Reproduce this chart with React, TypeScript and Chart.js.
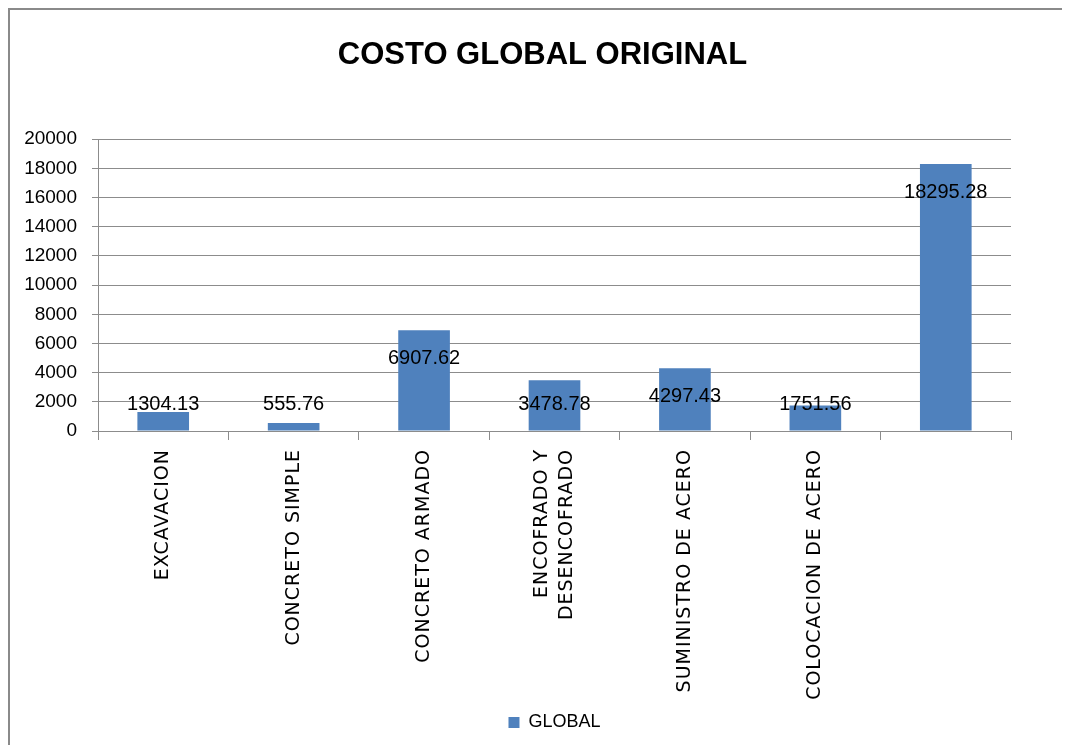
import React, { useEffect, useRef } from 'react';
import { Chart, registerables } from 'chart.js';

Chart.register(...registerables);

const chartTitle = 'COSTO GLOBAL ORIGINAL';
const seriesName = 'GLOBAL';
const categories: (string | string[])[] = [
  'EXCAVACION',
  'CONCRETO SIMPLE',
  'CONCRETO ARMADO',
  ['ENCOFRADO Y', 'DESENCOFRADO'],
  'SUMINISTRO DE ACERO',
  'COLOCACION DE ACERO',
  '',
];
const globalValues = [1304.13, 555.76, 6907.62, 3478.78, 4297.43, 1751.56, 18295.28];
const yMin = 0;
const yMax = 20000;
const yStep = 2000;

const BAR_COLOR = '#4F81BD';
const GRID_COLOR = '#8c8c8c';
const X_FONT_SIZE = 19;
const X_LINE_HEIGHT = 1.3;

const labelPlugin = {
  id: 'costLabels',
  beforeDraw(chart: any) {
    const xs = chart.scales.x;
    if (!xs) return;
    const items = xs.getLabelItems();
    const lh = X_FONT_SIZE * X_LINE_HEIGHT;
    items.forEach((it: any) => {
      if (Array.isArray(it.label) && !it._centered) {
        it._centered = true;
        it.options.translation = [
          it.options.translation[0] - ((it.label.length - 1) * lh) / 2,
          it.options.translation[1],
        ];
      }
    });
  },
  afterDatasetsDraw(chart: any) {
    const ctx = chart.ctx;
    const meta = chart.getDatasetMeta(0);
    ctx.save();
    ctx.font = '20px "Liberation Sans", Arial, sans-serif';
    ctx.fillStyle = '#000';
    ctx.textAlign = 'center';
    ctx.textBaseline = 'middle';
    meta.data.forEach((bar: any, i: number) => {
      const { x, y, base } = bar.getProps(['x', 'y', 'base'], true);
      const cy = Math.min(y + 28, base - 26);
      ctx.fillText(globalValues[i].toFixed(2), x, cy);
    });
    ctx.restore();
    (ctx as any).letterSpacing = '1px';
  },
  afterDraw(chart: any) {
    (chart.ctx as any).letterSpacing = '0px';
  },
};

export default function App() {
  const canvasRef = useRef<HTMLCanvasElement | null>(null);

  useEffect(() => {
    if (!canvasRef.current) return;
    const chart = new Chart(canvasRef.current, {
      type: 'bar',
      data: {
        labels: categories,
        datasets: [
          {
            label: seriesName,
            data: globalValues,
            backgroundColor: BAR_COLOR,
            borderWidth: 0,
            categoryPercentage: 1,
            barPercentage: 0.396,
            yAxisID: 'y',
          },
        ],
      },
      plugins: [labelPlugin],
      options: {
        responsive: false,
        animation: false,
        devicePixelRatio: 1,
        events: [],
        layout: { padding: { top: 0, left: 0, right: 0, bottom: 3.5 } },
        plugins: {
          title: {
            display: true,
            text: chartTitle,
            color: '#000',
            font: { family: '"Liberation Sans", Arial, sans-serif', size: 31, weight: 'bold', lineHeight: 1.2 },
            padding: { top: 27, bottom: 65 },
          },
          legend: {
            display: true,
            position: 'bottom',
            fullSize: false,
            labels: {
              boxWidth: 11,
              boxHeight: 11,
              color: '#000',
              padding: 10,
              font: { family: '"Liberation Sans", Arial, sans-serif', size: 18 },
            },
          },
          tooltip: { enabled: false },
        },
        scales: {
          x: {
            offset: true,
            grid: {
              offset: true,
              drawOnChartArea: false,
              drawTicks: true,
              tickLength: 9,
              color: GRID_COLOR,
            },
            border: { color: GRID_COLOR, width: 1 },
            ticks: {
              z: 1,
              autoSkip: false,
              minRotation: 90,
              maxRotation: 90,
              padding: 9,
              color: '#000',
              font: { family: '"DejaVu Sans", Verdana, sans-serif', size: X_FONT_SIZE, lineHeight: X_LINE_HEIGHT },
            },
            afterFit: (s: any) => {
              s.height = 272.5;
            },
          },
          y: {
            position: 'left',
            min: yMin,
            max: yMax,
            grid: { color: GRID_COLOR, tickLength: 6, lineWidth: 1 },
            border: { color: GRID_COLOR, width: 1 },
            ticks: {
              stepSize: yStep,
              padding: 15,
              color: '#000',
              font: { family: '"Liberation Sans", Arial, sans-serif', size: 19 },
              callback: (v: any) => String(v),
            },
            afterFit: (s: any) => {
              s.width = 88;
            },
          },
          yR: {
            type: 'linear',
            position: 'right',
            display: true,
            grid: { display: false },
            border: { display: false },
            ticks: { display: false },
            afterFit: (s: any) => {
              s.width = 64;
            },
          },
        },
      } as any,
    });
    return () => chart.destroy();
  }, []);

  return (
    <div style={{ width: 1062, height: 737, overflow: 'hidden' }}>
      <div
        style={{
          width: 1075,
          height: 760,
          border: '2px solid #8a8a8a',
          boxSizing: 'border-box',
          position: 'relative',
          background: '#fff',
        }}
      >
        <canvas
          ref={canvasRef}
          width={1065}
          height={735}
          style={{ position: 'absolute', left: 0, top: 0, display: 'block' }}
        />
      </div>
    </div>
  );
}
